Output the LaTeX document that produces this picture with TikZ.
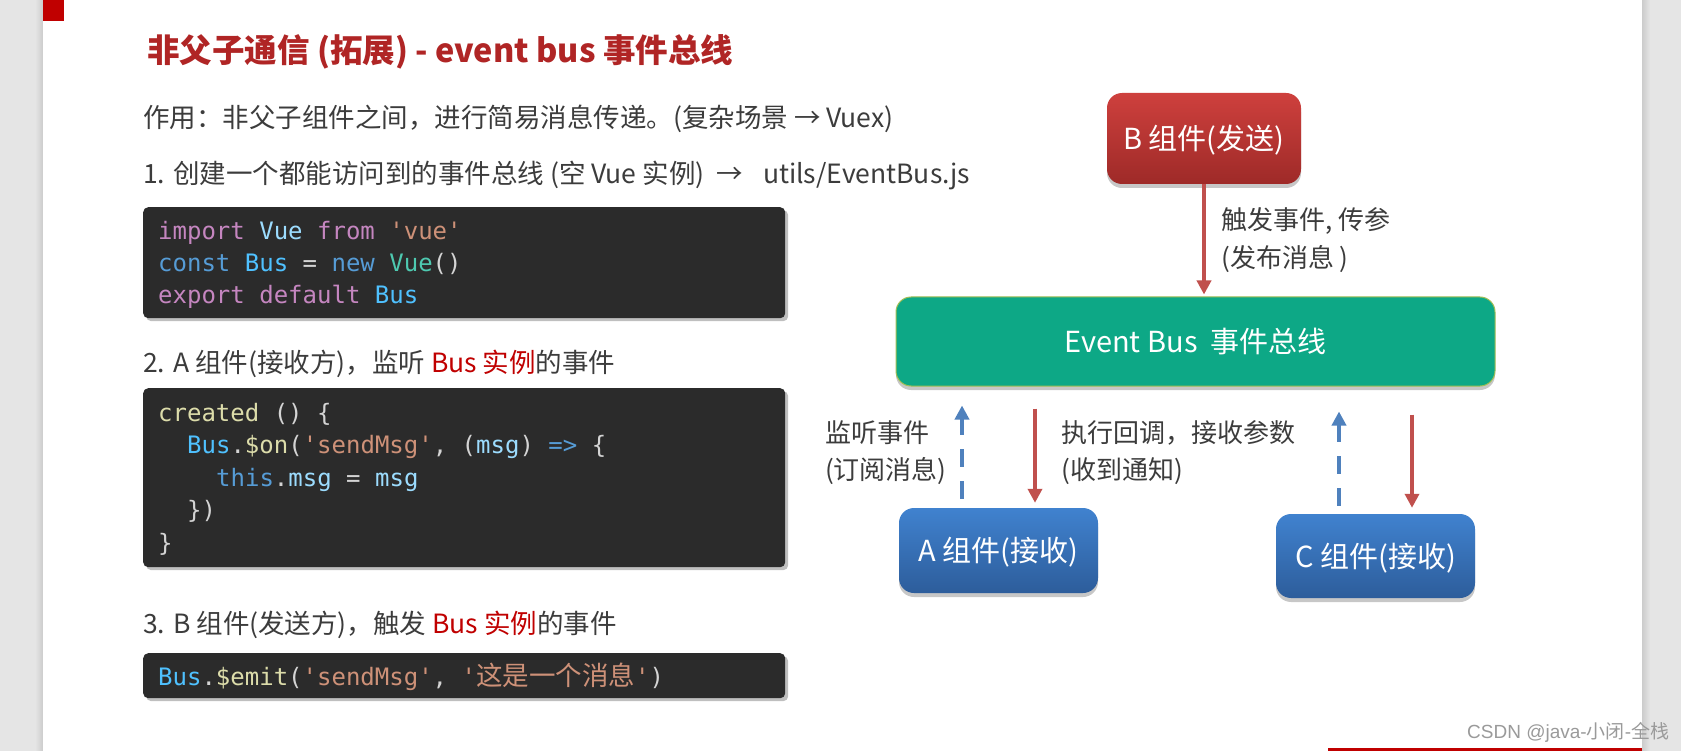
\documentclass[tikz,border=0pt]{standalone}
\usepackage{fontspec}
\setmainfont{Noto Sans CJK SC}
\newfontfamily\cjk{Noto Sans CJK SC}
\newfontfamily\codefont{DejaVu Sans Mono}[Ligatures=TeXOff]
\newfontfamily\wmfont{Liberation Sans}
\usetikzlibrary{arrows.meta,shadows,calc}
\definecolor{sidegray}{HTML}{E5E5E5}
\definecolor{accent}{HTML}{C00000}
\definecolor{titlered}{HTML}{B02525}
\definecolor{txtgray}{HTML}{3C3C3C}
\definecolor{codebg}{HTML}{2B2B2B}
\definecolor{codefg}{HTML}{D4D4D4}
\definecolor{ckw}{HTML}{C586C0}
\definecolor{cblue}{HTML}{569CD6}
\definecolor{cbus}{HTML}{4FC1FF}
\definecolor{cvar}{HTML}{9CDCFE}
\definecolor{cteal}{HTML}{4EC9B0}
\definecolor{cstr}{HTML}{CE9178}
\definecolor{cfn}{HTML}{DCDCAA}
\definecolor{btop}{HTML}{CE403D}
\definecolor{bbot}{HTML}{9E2A28}
\definecolor{atop}{HTML}{4082CF}
\definecolor{abot}{HTML}{2D5D9B}
\definecolor{ebgreen}{HTML}{0DA886}
\definecolor{ebline}{HTML}{A3BE55}
\definecolor{arrred}{HTML}{C0504D}
\definecolor{arrblue}{HTML}{4F81BD}
\definecolor{wmgray}{HTML}{9A9A9A}
\newcommand{\kwc}[1]{\textcolor{ckw}{#1}}
\newcommand{\blc}[1]{\textcolor{cblue}{#1}}
\newcommand{\busc}[1]{\textcolor{cbus}{#1}}
\newcommand{\varc}[1]{\textcolor{cvar}{#1}}
\newcommand{\tealc}[1]{\textcolor{cteal}{#1}}
\newcommand{\strc}[1]{\textcolor{cstr}{#1}}
\newcommand{\fnc}[1]{\textcolor{cfn}{#1}}
\newcommand{\redc}[1]{\textcolor{accent}{#1}}
\begin{document}
\begin{tikzpicture}[x=1pt,y=-1pt,
  txt/.style={anchor=west, inner sep=0pt, text=txtgray, font=\fontsize{26.5pt}{31pt}\selectfont, text height=23.3pt, text depth=3.2pt},
  lbl/.style={anchor=west, inner sep=0pt, text=txtgray, font=\fontsize{26pt}{31pt}\selectfont, text height=22.9pt, text depth=3.1pt},
  titletext/.style={anchor=west, inner sep=0pt, text=titlered, font=\bfseries\fontsize{32.5pt}{38pt}\selectfont, text height=28.6pt, text depth=3.9pt},
  codebox/.style={anchor=north west, fill=codebg, rounded corners=5pt, inner sep=0pt, minimum width=642pt,
     drop shadow={shadow xshift=3pt, shadow yshift=-3pt, opacity=0.25, fill=black}},
  codeline/.style={anchor=base west, inner sep=0pt, text=codefg, font=\codefont\fontsize{24pt}{29pt}\selectfont\frenchspacing},
  boxlabel/.style={text=white, font=\fontsize{29pt}{34pt}\selectfont, text height=25.5pt, text depth=3.5pt},
  compbox/.style={boxlabel, rounded corners=15pt, minimum width=199pt, minimum height=85pt, inner sep=0pt,
     drop shadow={shadow xshift=0pt, shadow yshift=-4pt, opacity=0.22, fill=black}},
  redarrow/.style={draw=arrred, line width=4pt, -{Triangle[width=14pt,length=14pt]}},
  bluedash/.style={draw=arrblue, line width=4pt, dash pattern=on 18pt off 14pt, -{Triangle[width=14pt,length=14pt]}}
]
\useasboundingbox (0,0) rectangle (1681,751);
% page background
\fill[sidegray] (0,0) rectangle (1681,751);
\shade[left color=sidegray, right color=black!20] (35,0) rectangle (43,751);
\shade[left color=black!20, right color=sidegray] (1642,0) rectangle (1650,751);
\fill[white] (43,0) rectangle (1642,751);
\fill[accent] (43,0) rectangle (64,21);
\fill[accent] (1328,748) rectangle (1642,751);

% title and texts
\node[titletext] (title) at (147,50) {非父子通信 (拓展) - event bus 事件总线};
\node[txt] (use) at (143,117) {作用：非父子组件之间，进行简易消息传递。(复杂场景 → Vuex)};
\node[txt] (s1) at (143,173) {1. 创建一个都能访问到的事件总线 (空 Vue 实例)\hspace{12pt}→\hspace{20pt}utils/EventBus.js};
\node[txt] (s2) at (143,362) {2. A 组件(接收方)，监听 \redc{Bus 实例}的事件};
\node[txt] (s3) at (143,623) {3. B 组件(发送方)，触发 \redc{Bus 实例}的事件};

% code box 1
\node[codebox, minimum height=111pt] (cb1) at (143,207) {};
\node[codeline] (c1a) at (158,240) {\kwc{import} \varc{Vue} \kwc{from} \strc{'vue'}};
\node[codeline] (c1b) at (158,272) {\blc{const} \busc{Bus} = \blc{new} \tealc{Vue}()};
\node[codeline] (c1c) at (158,304) {\kwc{export} \kwc{default} \busc{Bus}};

% code box 2
\node[codebox, minimum height=179pt] (cb2) at (143,388) {};
\node[codeline] (c2a) at (158,421) {\fnc{created} () \{};
\node[codeline] (c2b) at (187,453.5) {\busc{Bus}.\fnc{\$on}(\strc{'sendMsg'}, (\varc{msg}) \blc{=>} \{};
\node[codeline] (c2c) at (216,486) {\blc{this}.\varc{msg} = \varc{msg}};
\node[codeline] (c2d) at (187,518.5) {\})};
\node[codeline] (c2e) at (158,551) {\}};

% code box 3
\node[codebox, minimum height=45pt] (cb3) at (143,653) {};
\node[codeline] (c3a) at (158,685) {\busc{Bus}.\fnc{\$emit}(\strc{'sendMsg'}, \strc{'{\cjk\fontsize{26.5pt}{29pt}\selectfont 这是一个消息}'})};

% diagram
\node[compbox, top color=btop, bottom color=bbot, minimum width=194pt, minimum height=91pt] (B) at (1204,138.5) {B 组件(发送)};
\node[boxlabel, fill=ebgreen, draw=ebline, line width=1pt, rounded corners=15pt, minimum width=599pt, minimum height=89pt,
      drop shadow={shadow xshift=0pt, shadow yshift=-4pt, opacity=0.22, fill=black}] (EB) at (1195.5,341.5) {Event Bus~~事件总线};
\node[compbox, top color=atop, bottom color=abot] (A) at (998.5,550.5) {A 组件(接收)};
\node[compbox, top color=atop, bottom color=abot, minimum height=84pt] (C) at (1375.5,556) {C 组件(接收)};

% B -> EB
\path ($(EB.north)+(0,-2)$) coordinate (ebtop);
\draw[redarrow] (B.south) -- (B.south |- ebtop);
\node[lbl] (lb1) at (1221,220) {触发事件, 传参};
\node[lbl] (lb2) at (1221,258) {(发布消息 )};

% A side
\path ($(A.north)+(-36.5,-9)$) coordinate (aup);
\path ($(EB.south)+(0,19)$) coordinate (ebA);
\draw[bluedash] (aup) -- (aup |- ebA);
\path ($(EB.south)+(0,22)$) coordinate (ebAr);
\path ($(A.north)+(36.5,-5)$) coordinate (adn);
\draw[redarrow] (adn |- ebAr) -- (adn);
\node[lbl] (la1) at (825,433) {监听事件};
\node[lbl] (la2) at (825,470) {(订阅消息)};
\node[lbl] (la3) at (1061,433) {执行回调，接收参数};
\node[lbl] (la4) at (1061,470) {(收到通知)};

% C side
\path ($(C.north)+(-36.5,-8)$) coordinate (cup);
\path ($(EB.south)+(0,25)$) coordinate (ebC);
\draw[bluedash] (cup) -- (cup |- ebC);
\path ($(EB.south)+(0,28)$) coordinate (ebCr);
\path ($(C.north)+(36.5,-6)$) coordinate (cdn);
\draw[redarrow] (cdn |- ebCr) -- (cdn);

% watermark
\node[anchor=west, inner sep=0pt, text=wmgray, font=\wmfont\fontsize{19pt}{22pt}\selectfont] (wm) at (1467,732) {CSDN @java-{\cjk 小闭}-{\cjk 全栈}};
\end{tikzpicture}
\end{document}
